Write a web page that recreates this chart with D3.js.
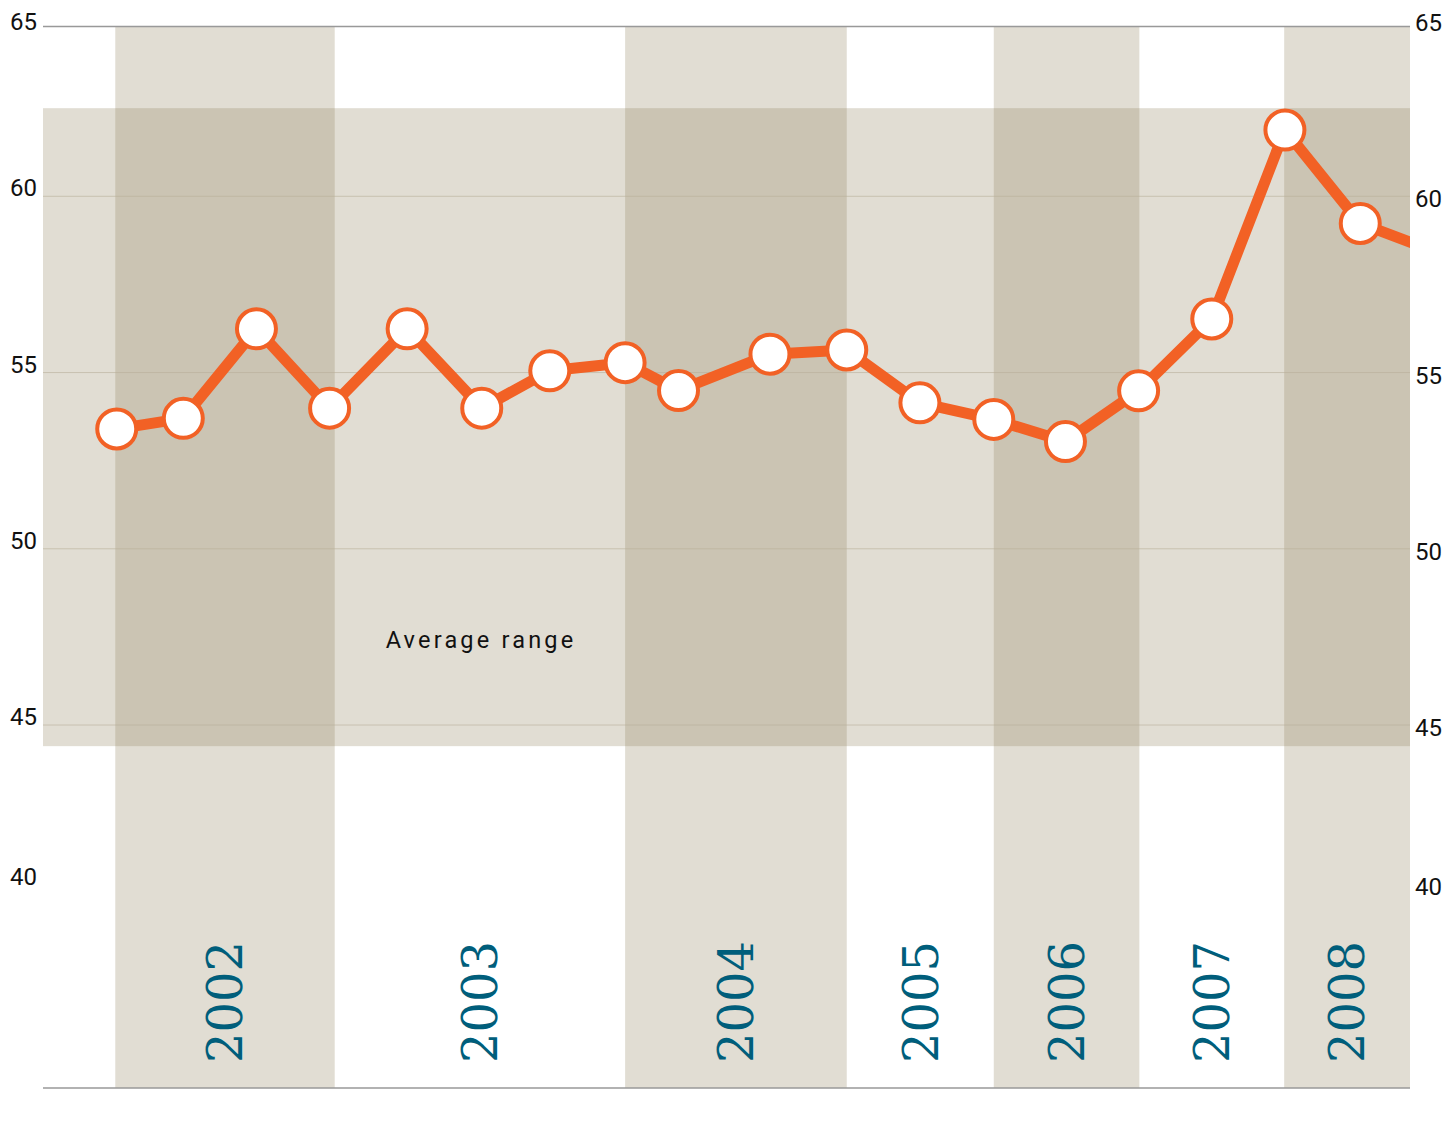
<!DOCTYPE html>
<html>
<head>
<meta charset="utf-8">
<script src="https://cdn.jsdelivr.net/npm/d3@7"></script>
<style>
  body { margin: 0; background: #fff; }
</style>
</head>
<body>
<script>
// survey points: position on the period axis and the reading
const periods = [0, 0.91, 1.91, 2.91, 3.97, 4.99, 5.92, 6.95, 7.68, 8.93,
                 9.98, 10.98, 11.99, 12.97, 13.97, 14.97, 15.97, 17, 18];
const values = [53.40, 53.70, 56.24, 53.99, 56.24, 53.99, 55.05, 55.28, 54.49, 55.52,
                55.64, 54.14, 53.67, 53.04, 54.48, 56.52, 61.88, 59.23, 58.45];
const years = ["2002", "2003", "2004", "2005", "2006", "2007", "2008"];
const yearStarts = [-0.02, 2.98, 6.95, 9.98, 11.99, 13.98, 15.96];
const yTicks = [65, 60, 55, 50, 45, 40];
const avgRange = [44.4, 62.5];
const avgLabel = "Average range";

const chartWidth = 1450, chartHeight = 1128;
const plotLeft = 43, plotRight = 1410, plotTop = 26.5, plotBottom = 1088;
const xDomain = [-1.008, 17.68];

const x = d3.scaleLinear().domain(xDomain).range([plotLeft, plotRight]);
const y = d3.scaleLinear().domain([45, 60]).range([725, 196.3]);

const svg = d3.select("body").append("svg")
    .attr("width", chartWidth)
    .attr("height", chartHeight);

svg.append("clipPath").attr("id", "plot")
  .append("rect")
    .attr("x", plotLeft).attr("y", 0)
    .attr("width", plotRight - plotLeft).attr("height", chartHeight);

const shade = "rgb(144,129,92)";

const bandEnd = i => i < years.length - 1 ? x(yearStarts[i + 1]) : plotRight;

// year columns (every other one shaded)
years.forEach((yr, i) => {
    if (i % 2 !== 0) return;
    const x0 = x(yearStarts[i]);
    svg.append("rect")
        .attr("x", x0).attr("y", plotTop)
        .attr("width", bandEnd(i) - x0).attr("height", plotBottom - plotTop)
        .attr("fill", shade).attr("fill-opacity", 0.27);
});

// average range band
svg.append("rect")
    .attr("x", plotLeft).attr("y", y(avgRange[1]))
    .attr("width", plotRight - plotLeft)
    .attr("height", y(avgRange[0]) - y(avgRange[1]))
    .attr("fill", shade).attr("fill-opacity", 0.27);

// gridlines
svg.append("g")
  .selectAll("line")
  .data(yTicks.filter(t => t < 65 && t > 40))
  .join("line")
    .attr("x1", plotLeft).attr("x2", plotRight)
    .attr("y1", d => y(d)).attr("y2", d => y(d))
    .attr("stroke", "#b9af9a").attr("stroke-opacity", 0.6)
    .attr("stroke-width", 1);

// top and bottom rules
[plotTop, plotBottom].forEach(yy => {
    svg.append("line")
        .attr("x1", plotLeft).attr("x2", plotRight)
        .attr("y1", yy).attr("y2", yy)
        .attr("stroke", "#999").attr("stroke-width", 1.5);
});

// axis labels (65 pinned to the top rule, 40 pulled up like the original)
const labelFont = "Roboto, 'Noto Sans', sans-serif";
svg.append("g")
  .selectAll("text")
  .data(yTicks)
  .join("text")
    .attr("x", 37)
    .attr("y", d => Math.min(Math.max(y(d), 29.5), 885))
    .attr("text-anchor", "end")
    .attr("font-family", labelFont)
    .attr("font-size", 24)
    .attr("fill", "#111")
    .text(d => d);

svg.append("g")
  .selectAll("text")
  .data(yTicks)
  .join("text")
    .attr("x", 1415)
    .attr("y", d => Math.min(Math.max(y(d) + 11, 29.5), 895))
    .attr("text-anchor", "start")
    .attr("font-family", labelFont)
    .attr("font-size", 24)
    .attr("fill", "#111")
    .text(d => d);

// year labels, rotated
const yearSize = 48;
years.forEach((yr, i) => {
    const cx = (x(yearStarts[i]) + bandEnd(i)) / 2;
    svg.append("text")
        .attr("transform", `translate(${cx},1063) rotate(-90)`)
        .attr("y", yearSize * 0.36)
        .attr("font-family", "'DejaVu Serif', 'Liberation Serif', serif")
        .attr("font-size", yearSize)
        .attr("fill", "#005e7b")
        .text(yr);
});

// band label
svg.append("text")
    .attr("x", 481).attr("y", 648)
    .attr("text-anchor", "middle")
    .attr("font-family", labelFont)
    .attr("font-size", 23.5)
    .attr("letter-spacing", 3.2)
    .attr("fill", "#111")
    .text(avgLabel);

// the line
const points = values.map((v, i) => [periods[i], v]);
const line = d3.line()
    .x(d => x(d[0]))
    .y(d => y(d[1]));

svg.append("path")
    .datum(points)
    .attr("clip-path", "url(#plot)")
    .attr("d", line)
    .attr("fill", "none")
    .attr("stroke", "#f26125")
    .attr("stroke-width", 11)
    .attr("stroke-linejoin", "round");

svg.append("g")
  .selectAll("circle")
  .data(points.filter(d => d[0] <= xDomain[1]))
  .join("circle")
    .attr("cx", d => x(d[0]))
    .attr("cy", d => y(d[1]))
    .attr("r", 19.5)
    .attr("fill", "#fff")
    .attr("stroke", "#f26125")
    .attr("stroke-width", 4);
</script>
</body>
</html>
